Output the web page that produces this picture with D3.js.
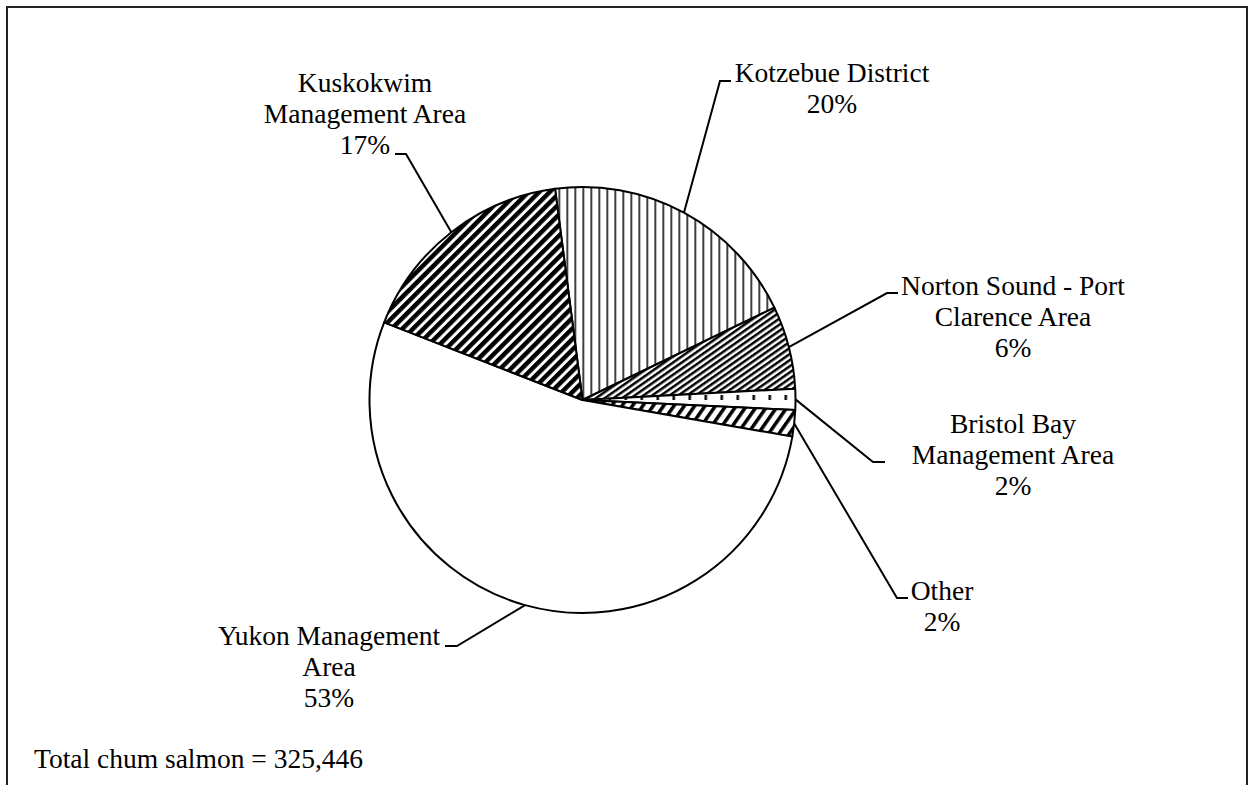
<!DOCTYPE html>
<html>
<head>
<meta charset="utf-8">
<script src="https://cdn.jsdelivr.net/npm/d3@7"></script>
<style>
  body { margin: 0; background: #fff; }
  svg { display: block; }
  text { font-family: "Liberation Serif", "Times New Roman", serif; font-size: 27.5px; fill: #000; }
</style>
</head>
<body>
<svg id="chart" width="1254" height="785"></svg>
<script>
// chum salmon by area, clockwise from Kotzebue
var categories = ["Kotzebue District", "Norton Sound - Port Clarence Area", "Bristol Bay Management Area",
                  "Other", "Yukon Management Area", "Kuskokwim Management Area"];
var labelLines = [["Kotzebue District"], ["Norton Sound - Port", "Clarence Area"], ["Bristol Bay", "Management Area"],
                  ["Other"], ["Yukon Management", "Area"], ["Kuskokwim", "Management Area"]];
var values = [64800, 20500, 5200, 6500, 173100, 55346];
var totalLabel = "Total chum salmon = ";

// layout: label centre x, first baseline y, leader elbow and end of the short horizontal bit
var labelLayout = [
	{cx: 832, y: 82, ex: 720, ey: 81, hx: 731},
	{cx: 1013, y: 295, ex: 887, ey: 293, hx: 898},
	{cx: 1013, y: 433, ex: 873, ey: 462, hx: 885},
	{cx: 942, y: 600, ex: 897, ey: 598, hx: 908},
	{cx: 329, y: 645, ex: 457, ey: 646, hx: 445},
	{cx: 365, y: 92, ex: 406, ey: 154, hx: 395}
];
var fills = ["url(#vlines)", "url(#fineDiag)", "url(#dashV)", "url(#wideDiag)", "#fff", "url(#darkDiag)"];

var cx = 582.5, cy = 400, radius = 213, lineGap = 31;

var svg = d3.select("#chart");
var total = d3.sum(values);

// frame (bottom edge runs off the picture)
svg.append("path")
	.attr("d", "M7,790V7H1247V790")
	.attr("fill", "none")
	.attr("stroke", "#222")
	.attr("stroke-width", 2);

var defs = svg.append("defs");

function stripePattern(id, size, black, angle){
	var p = defs.append("pattern")
		.attr("id", id)
		.attr("patternUnits", "userSpaceOnUse")
		.attr("width", size)
		.attr("height", size)
		.attr("patternTransform", "rotate(" + angle + ")");
	p.append("rect").attr("width", size).attr("height", size).attr("fill", "#fff");
	p.append("rect").attr("width", black).attr("height", size).attr("fill", "#000");
}
stripePattern("vlines", 8, 1.5, 0);
stripePattern("darkDiag", 7.5, 4.5, 45);
stripePattern("fineDiag", 5, 2.5, 55);
stripePattern("wideDiag", 8.5, 3.5, 35);

var dash = defs.append("pattern")
	.attr("id", "dashV")
	.attr("patternUnits", "userSpaceOnUse")
	.attr("width", 16)
	.attr("height", 16);
dash.append("rect").attr("width", 16).attr("height", 16).attr("fill", "#fff");
dash.append("rect").attr("x", 10).attr("y", 11).attr("width", 2.5).attr("height", 6).attr("fill", "#000");

var startAngle = -7.4 * Math.PI / 180;
var pie = d3.pie().sort(null).startAngle(startAngle).endAngle(startAngle + 2 * Math.PI);
var arc = d3.arc().innerRadius(0).outerRadius(radius);
var arcs = pie(values);

var g = svg.append("g").attr("transform", "translate(" + cx + "," + cy + ")");

g.selectAll(".slice").data(arcs).enter()
	.append("path")
	.attr("class", "slice")
	.attr("d", arc)
	.attr("fill", function(d, i){ return fills[i]; })
	.attr("stroke", "#000")
	.attr("stroke-width", 2)
	.attr("stroke-linejoin", "round");

// leader lines start on the rim at the slice mid angle
svg.selectAll(".leader").data(arcs).enter()
	.append("polyline")
	.attr("class", "leader")
	.attr("fill", "none")
	.attr("stroke", "#000")
	.attr("stroke-width", 2)
	.attr("points", function(d, i){
		var a = (d.startAngle + d.endAngle) / 2;
		var L = labelLayout[i];
		var px = cx + radius * Math.sin(a), py = cy - radius * Math.cos(a);
		return [[px, py], [L.ex, L.ey], [L.hx, L.ey]].join(" ");
	});

svg.selectAll(".label").data(arcs).enter()
	.append("text")
	.attr("class", "label")
	.attr("text-anchor", "middle")
	.each(function(d, i){
		var t = d3.select(this);
		var L = labelLayout[i];
		var lines = labelLines[i].concat([Math.round(d.value / total * 100) + "%"]);
		lines.forEach(function(s, k){
			t.append("tspan").attr("x", L.cx).attr("y", L.y + k * lineGap).text(s);
		});
	});

svg.append("text")
	.attr("x", 34)
	.attr("y", 768)
	.text(totalLabel + d3.format(",")(total));
</script>
</body>
</html>
